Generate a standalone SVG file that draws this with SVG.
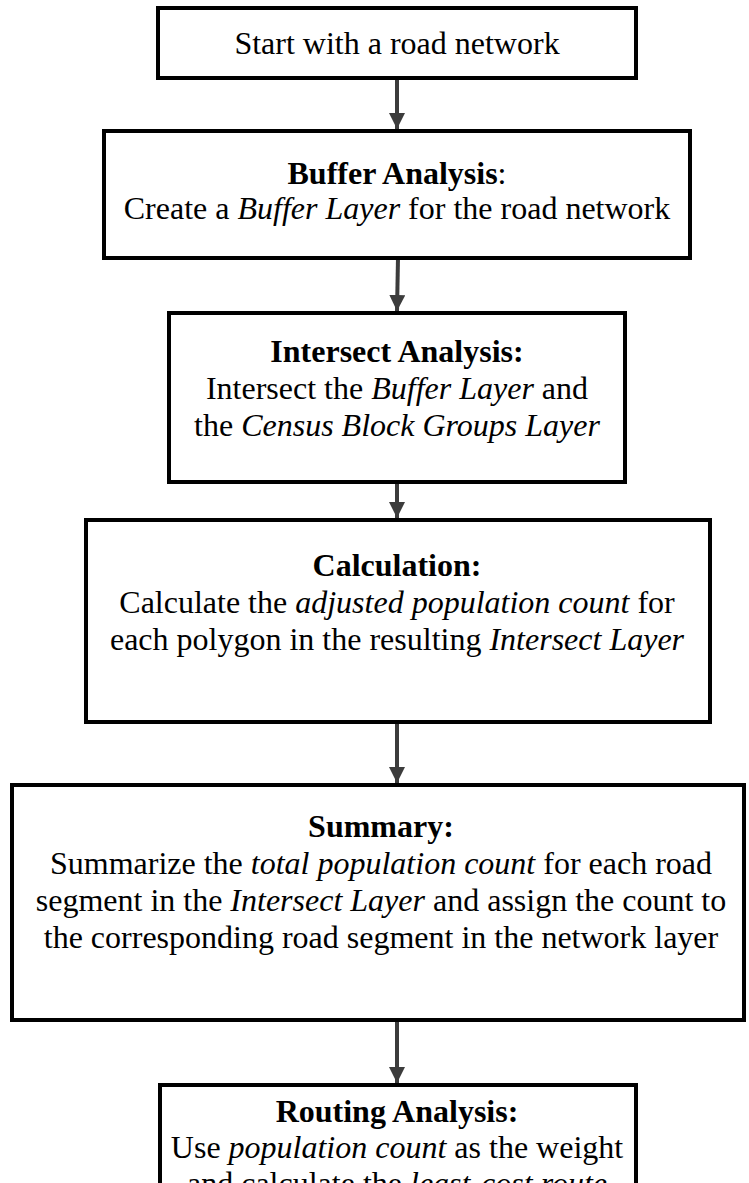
<svg xmlns="http://www.w3.org/2000/svg" width="749" height="1183" viewBox="0 0 749 1183">
<defs>
<marker id="ah" markerWidth="4" markerHeight="4" refX="4" refY="2" orient="auto" markerUnits="strokeWidth">
<path d="M0,0 L4,2 L0,4 z" fill="#3c3c3c"/>
</marker>
<style>
.box{fill:#fff;stroke:#000;stroke-width:4}
.t{font-family:"Liberation Serif","Times New Roman",serif;font-size:32px;fill:#000;text-anchor:middle}
.b{font-weight:bold}
.i{font-style:italic}
.c{stroke:#3c3c3c;stroke-width:4;fill:none;marker-end:url(#ah)}
</style>
</defs>
<rect width="749" height="1183" fill="#fff"/>
<g id="connectors">
<line class="c" x1="397" y1="78" x2="397" y2="129"/>
<line class="c" x1="398" y1="258" x2="397" y2="311"/>
<line class="c" x1="397" y1="482" x2="397" y2="518"/>
<line class="c" x1="397" y1="722" x2="397" y2="783"/>
<line class="c" x1="397" y1="1020" x2="397" y2="1083"/>
</g>
<g id="n1">
<rect class="box" x="158" y="8" width="478" height="70"/>
<text class="t" x="397" y="54">Start with a road network</text>
</g>
<g id="n2">
<rect class="box" x="104" y="131" width="586" height="127"/>
<text class="t" x="397" y="184"><tspan class="b">Buffer Analysis</tspan>:</text>
<text class="t" x="397" y="219">Create a <tspan class="i">Buffer Layer</tspan> for the road network</text>
</g>
<g id="n3">
<rect class="box" x="169" y="313" width="456" height="169"/>
<text class="t b" x="397" y="362">Intersect Analysis:</text>
<text class="t" x="397" y="399">Intersect the <tspan class="i">Buffer Layer</tspan> and</text>
<text class="t" x="397" y="436">the <tspan class="i">Census Block Groups Layer</tspan></text>
</g>
<g id="n4">
<rect class="box" x="86" y="520" width="624" height="202"/>
<text class="t b" x="397" y="576">Calculation:</text>
<text class="t" x="397" y="613">Calculate the <tspan class="i">adjusted population count</tspan> for</text>
<text class="t" x="397" y="650">each polygon in the resulting <tspan class="i">Intersect Layer</tspan></text>
</g>
<g id="n5">
<rect class="box" x="12" y="785" width="732" height="235"/>
<text class="t b" x="381" y="837">Summary:</text>
<text class="t" x="381" y="874">Summarize the <tspan class="i">total population count</tspan> for each road</text>
<text class="t" x="381" y="911">segment in the <tspan class="i">Intersect Layer</tspan> and assign the count to</text>
<text class="t" x="381" y="948">the corresponding road segment in the network layer</text>
</g>
<g id="n6">
<rect class="box" x="160" y="1085" width="476" height="140"/>
<text class="t b" x="397" y="1122">Routing Analysis:</text>
<text class="t" x="397" y="1158">Use <tspan class="i">population count</tspan> as the weight</text>
<text class="t" x="397" y="1194">and calculate the <tspan class="i">least-cost route</tspan></text>
</g>
</svg>
